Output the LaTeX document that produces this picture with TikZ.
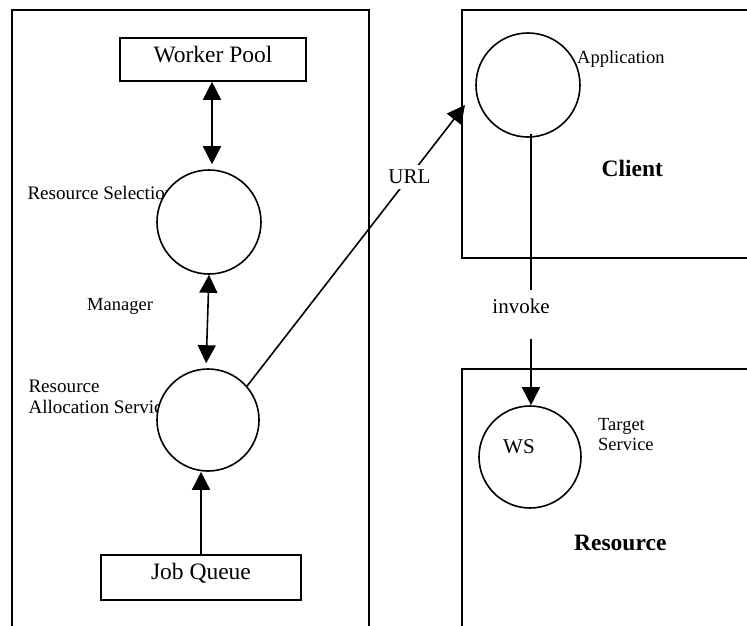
\documentclass[tikz,border=0pt]{standalone}
\usepackage{fontspec}
\setmainfont{Liberation Serif}
\usetikzlibrary{arrows.meta,calc}

\newcommand{\fsbig}{\fontsize{23.5}{26}\selectfont}
\newcommand{\fsmid}{\fontsize{21}{24}\selectfont}
\newcommand{\fssmall}{\fontsize{18.5}{20.6}\selectfont}
\newcommand{\fsside}{\fontsize{19.1}{20.6}\selectfont}

\tikzset{
  pane/.style={draw, line width=1.6pt},
  procbox/.style={draw, line width=1.6pt, inner sep=0pt, font=\fsbig},
  proc/.style={circle, draw, fill=white, line width=1.6pt, inner sep=0pt},
  link/.style={line width=1.6pt},
  tip/.style={-{Triangle[length=18pt,width=18pt]}},
  twotip/.style={{Triangle[length=18pt,width=18pt]}-{Triangle[length=18pt,width=18pt]}},
  lbl/.style={inner sep=0pt, anchor=base west},
}

\begin{document}
\begin{tikzpicture}[x=1pt,y=-1pt]
\useasboundingbox (0,0) rectangle (747,625);
\clip (0,0) rectangle (747,625);

% the three panes (they run on past the page edges)
\draw[pane] (12,10) rectangle (369,650);
\draw[pane] (462,10) rectangle (770,258);
\draw[pane] (462,369) rectangle (770,650);

% side labels, set before the circles so the white fill trims them
% (two-line labels are anchored on the baseline of their last line)
\node[lbl, font=\fsside] (rslbl) at (27.3,199.3) {Resource Selection};
\node[lbl, font=\fssmall] (mgr) at (87,310) {Manager};
\node[lbl, font=\fsside, align=left] (raslbl) at (28.3,413.3)
  {Resource\\Allocation Service};

% manager side
\node[procbox, minimum width=186pt, text height=24pt, text depth=19pt]
  (wp) at (213,59.5) {Worker Pool};
\node[procbox, minimum width=200pt, text height=24.3pt, text depth=20.7pt]
  (jq) at (201,577.5) {Job Queue};
\node[proc, minimum size=104pt] (rs) at (209,222) {};
\node[proc, minimum size=102pt] (ras) at (208,420) {};

% client side
\node[proc, minimum size=104pt] (app) at (528,85) {};
\node[lbl, font=\fssmall] (applbl) at (577,63.3) {Application};
\node[lbl, font=\fsbig\bfseries] (client) at (601.5,176) {Client};

% resource side
\node[proc, minimum size=102pt] (ws) at (530,457) {};
\node[lbl, font=\fsmid] (wslbl) at (503,453.3) {WS};
\node[lbl, font=\fssmall, align=left] (tslbl) at (598,450.7) {Target\\Service};
\node[lbl, font=\fsbig\bfseries] (res) at (574,550.7) {Resource};

% connectors
\draw[link, twotip, shorten >=5pt] (wp.south -| 212,0) -- (rs.north -| 212,0);
\draw[link, twotip, shorten >=5pt] (rs.south) -- (ras.north -| 206,0);
\draw[link, tip] (jq.north) -- (jq.north |- ras.south);

\coordinate (urltip) at (465,105);
\draw[link, tip] (ras.41) -- (urltip)
  node[pos=0.745, fill=white, inner sep=5pt, font=\fsmid] (url) {URL};

\coordinate (inv1) at (531,290);
\coordinate (inv2) at (531,339);
\draw[link] (inv1 |- app.south) ++(0,-4) -- (inv1);
\node[inner sep=0pt, anchor=base, font=\fsmid] (invoke) at (521,313) {invoke};
\draw[link, tip] (inv2) -- (inv2 |- ws.north);
\end{tikzpicture}
\end{document}
